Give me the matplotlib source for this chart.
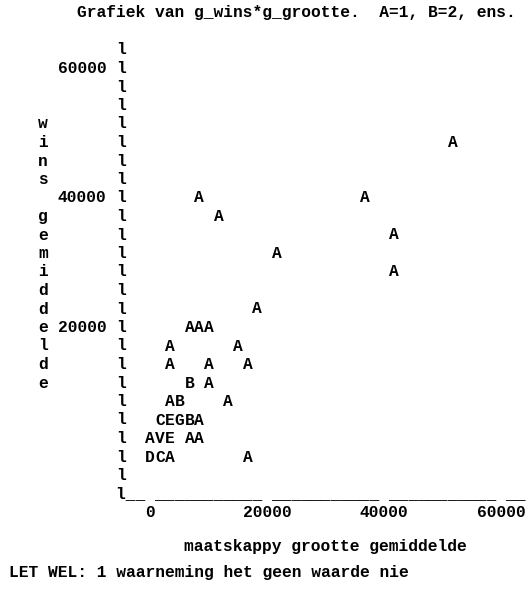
import matplotlib

matplotlib.use("Agg")
import matplotlib.pyplot as plt

# data (x = g_grootte, y = g_wins, n = number of obs)
x_vals = [51700, 8300, 36700, 11700, 41700, 21700, 41700, 18300,
          6700, 8300, 10000, 3300, 15000, 3300, 10000, 16700,
          6700, 10000, 3300, 5000, 13300,
          1700, 3300, 5000, 6700, 8300,
          0, 1700, 3300, 6700, 8300,
          0, 1700, 3300, 16700]
y_vals = [48600, 40000, 40000, 37100, 34300, 31400, 28600, 22900,
          20000, 20000, 20000, 17100, 17100, 14300, 14300, 14300,
          11400, 11400, 8600, 8600, 8600,
          5700, 5700, 5700, 5700, 5700,
          2900, 2900, 2900, 2900, 2900,
          0, 0, 0, 0]
counts = [1, 1, 1, 1, 1, 1, 1, 1,
          1, 1, 1, 1, 1, 1, 1, 1,
          2, 1, 1, 2, 1,
          3, 5, 7, 2, 1,
          1, 22, 5, 1, 1,
          4, 3, 1, 1]

x_ticks = [0, 20000, 40000, 60000]
y_ticks = [20000, 40000, 60000]

title = "Grafiek van g_wins*g_grootte.  A=1, B=2, ens."
x_label = "maatskappy grootte gemiddelde"
y_label = "wins gemiddelde"
note = "LET WEL: 1 waarneming het geen waarde nie"

# character grid of the printout
W, H = 529, 594
CW, RH = 9.75, 18.5          # char cell width / row height in px
AX_COL_PX, ROW1_PX = 121, 50  # axis column centre, first row centre (from top)
COLS_PER_TICK, ROWS_PER_TICK = 12, 7
ZERO_COL, ZERO_ROW = 3, 23
XU = 20000 / (COLS_PER_TICK * CW)  # data units per px
YU = 20000 / (ROWS_PER_TICK * RH)

x0_px = AX_COL_PX + ZERO_COL * CW
y0_px = ROW1_PX + (ZERO_ROW - 1) * RH


def cx(c):
    return (c - ZERO_COL) * 20000 / COLS_PER_TICK


def ry(r):
    return (ZERO_ROW - r) * 20000 / ROWS_PER_TICK


fig = plt.figure(figsize=(W / 100, H / 100), dpi=100)
ax = fig.add_axes([0, 0, 1, 1])
ax.set_xlim(-x0_px * XU, (W - x0_px) * XU)
ax.set_ylim(-(H - y0_px) * YU, y0_px * YU)
ax.set_axis_off()

kw = dict(family="Liberation Mono", fontweight="bold", fontsize=CW / 0.6 * 72 / 100,
          color="black", va="center")

# title
ax.text(cx(-4) - 0.5 * CW * XU, ry(-1), title, ha="left", **kw)

# vertical axis
for r in range(1, 25):
    ax.text(cx(0), ry(r), "l", ha="center", **kw)
for t in y_ticks:
    ax.text(cx(-1.5), t, f"{t}", ha="right", **kw)

# y label, one letter per row
for i, ch in enumerate(y_label):
    if ch != " ":
        ax.text(cx(-8), ry(5 + i), ch, ha="center", **kw)

# horizontal axis line
tick_cols = [ZERO_COL + COLS_PER_TICK * i for i in range(len(x_ticks))]
line = "l"
for c in range(1, tick_cols[-1] + 3):
    line += " " if c in tick_cols else "_"
ax.text(cx(0) - 0.5 * CW * XU, ry(25), line, ha="left", **kw)
for t in x_ticks:
    ax.text(t, ry(26), f"{t}", ha="center", **kw)

# plotted symbols
for x, y, n in zip(x_vals, y_vals, counts):
    ax.text(x, y, chr(64 + n), ha="center", **kw)

ax.text(cx(7) - 0.5 * CW * XU, (y0_px - 547) * YU, x_label, ha="left", **kw)
ax.text(cx(-11) - 0.5 * CW * XU, (y0_px - 573) * YU, note, ha="left", **kw)

fig.savefig("out.png", dpi=100, facecolor="white")
